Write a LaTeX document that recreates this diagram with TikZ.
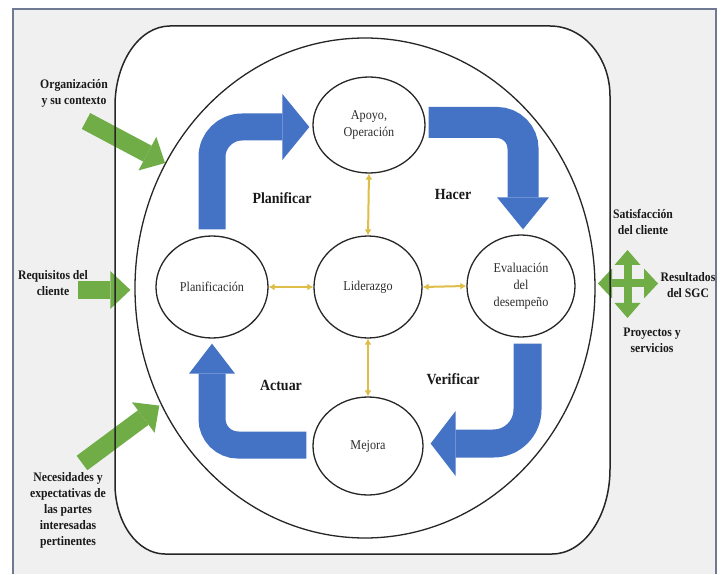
\documentclass[tikz,border=0pt]{standalone}
\usepackage{fontspec}
\setmainfont{Liberation Serif}[FakeStretch=0.9]
\usetikzlibrary{arrows.meta,shapes.geometric}

\definecolor{azul}{RGB}{68,114,196}
\definecolor{verdeg}{RGB}{112,173,71}
\definecolor{oro}{RGB}{222,190,70}
\definecolor{fondo}{RGB}{240,240,240}
\definecolor{marco}{RGB}{110,122,145}
\definecolor{tinta}{RGB}{45,45,45}

\begin{document}
\begin{tikzpicture}[x=1pt,y=-1pt,
  etapa/.style={ellipse,draw=black!85,line width=1.3pt,fill=white,inner sep=0pt,
    align=center,text=tinta,font=\rmfamily\fontsize{13.5}{17}\selectfont},
  fase/.style={font=\rmfamily\bfseries\fontsize{15.5}{18}\selectfont,text=black!90},
  entrada/.style={align=center,font=\rmfamily\bfseries\fontsize{13}{16}\selectfont,text=black!90},
  flujo/.style={color=azul,line width=27pt,rounded corners=30pt},
  vinculo/.style={color=oro,line width=2pt,
    {Latex[length=6pt,width=7pt]}-{Latex[length=6pt,width=7pt]}},
  aporte/.style={color=verdeg,line width=18pt,
    -{Triangle[length=20pt,width=38pt,line width=0pt]}},
]

% page and grey panel
\fill[white] (0,0) rectangle (726,574);
\fill[fondo] (13,9) rectangle (716,574);
\draw[marco,line width=1.5pt] (13,574) -- (13,9) -- (716,9) -- (716,574);

% white system box (border drawn again later, on top)
\fill[white] (170,26) -- (550,26)
  arc[start angle=-90,end angle=0,x radius=60,y radius=70] -- (610,469)
  arc[start angle=0,end angle=90,x radius=58,y radius=85] -- (165,554)
  arc[start angle=90,end angle=180,x radius=50,y radius=70] -- (115,106)
  arc[start angle=180,end angle=270,x radius=55,y radius=80] -- cycle;

% PHVA cycle
\node[ellipse,draw=black!85,line width=1.3pt,fill=white,minimum width=460pt,
  minimum height=500pt,inner sep=0pt] (ciclo) at (365,288) {};

\node[etapa,minimum width=112pt,minimum height=96pt] (apoyo) at (369,125) {Apoyo,\\Operación};
\node[etapa,minimum width=108pt,minimum height=102pt] (lider) at (368,287) {Liderazgo};
\node[etapa,minimum width=112pt,minimum height=102pt] (plan) at (212,287) {Planificación};
\node[etapa,minimum width=108pt,minimum height=102pt] (eval) at (521,286) {Evaluación\\del\\desempeño};
\node[etapa,minimum width=110pt,minimum height=98pt] (mejora) at (368,446) {Mejora};

% bent cycle arrows
\draw[flujo,-{Triangle[length=27pt,width=66pt,line width=0pt]}]
  ([yshift=6pt]plan.north) |- ([xshift=-3pt,yshift=-2pt]apoyo.west);
\draw[flujo,line width=31pt,rounded corners=26pt,-{Triangle[length=32pt,width=52pt,line width=0pt]}]
  ([xshift=3pt,yshift=2.5pt]apoyo.east) -| ([xshift=2pt,yshift=5pt]eval.north);
\draw[flujo,line width=28pt,rounded corners=34pt,-{Triangle[length=25pt,width=65pt,line width=0pt]}]
  ([xshift=6.5pt,yshift=-6pt]eval.south) |- ([xshift=7pt,yshift=2.5pt]mejora.east);
\draw[flujo,rounded corners=26pt,-{Triangle[length=30pt,width=46pt,line width=0pt]}]
  ([xshift=-6pt,yshift=1pt]mejora.west) -| ([yshift=-5pt]plan.south);

% leadership links
\draw[vinculo] (apoyo.south) -- (lider.north);
\draw[vinculo] (plan.east) -- (lider.west);
\draw[vinculo] (lider.east) -- (eval.west);
\draw[vinculo] (lider.south) -- (mejora.north);

% inputs
\coordinate (orgcola) at (86,121);
\coordinate (reqcola) at (78,290);
\coordinate (neccola) at (82,463);
\draw[aporte] (orgcola) -- (ciclo.148);
\draw[aporte] (reqcola) -- ([xshift=-4pt,yshift=-2pt]ciclo.west);
\draw[aporte] (neccola) -- ([xshift=-2pt]ciclo.210);

% outputs
\coordinate (cruz) at (627.5,283.5);
\draw[verdeg,line width=8pt,
  {Triangle[length=14pt,width=30pt,line width=0pt]}-{Triangle[length=14pt,width=30pt,line width=0pt]}]
  ([xshift=-29.5pt]cruz) -- ([xshift=30.5pt]cruz);
\draw[verdeg,line width=8pt,
  {Triangle[length=15pt,width=26pt,line width=0pt]}-{Triangle[length=15pt,width=26pt,line width=0pt]}]
  ([yshift=33.5pt]cruz) -- ([yshift=-34.5pt]cruz);

% system box border
\draw[black!85,line width=1.5pt] (170,26) -- (550,26)
  arc[start angle=-90,end angle=0,x radius=60,y radius=70] -- (610,469)
  arc[start angle=0,end angle=90,x radius=58,y radius=85] -- (165,554)
  arc[start angle=90,end angle=180,x radius=50,y radius=70] -- (115,106)
  arc[start angle=180,end angle=270,x radius=55,y radius=80] -- cycle;

% labels
\node[fase] (tplan) at (282,198) {Planificar};
\node[fase] (thacer) at (453,195) {Hacer};
\node[fase] (tactuar) at (281,385) {Actuar};
\node[fase] (tverif) at (453,379) {Verificar};

\node[entrada] (org) at (74,93) {Organización\\y su contexto};
\node[entrada] (req) at (53,283) {Requisitos del\\cliente};
\node[entrada] (nec) at (68,510) {Necesidades y\\expectativas de\\las partes\\interesadas\\pertinentes};
\node[entrada] (sat) at (643,222) {Satisfacción\\del cliente};
\node[entrada] (res) at (688,285) {Resultados\\del SGC};
\node[entrada] (proy) at (652,340) {Proyectos y\\servicios};
\end{tikzpicture}
\end{document}
